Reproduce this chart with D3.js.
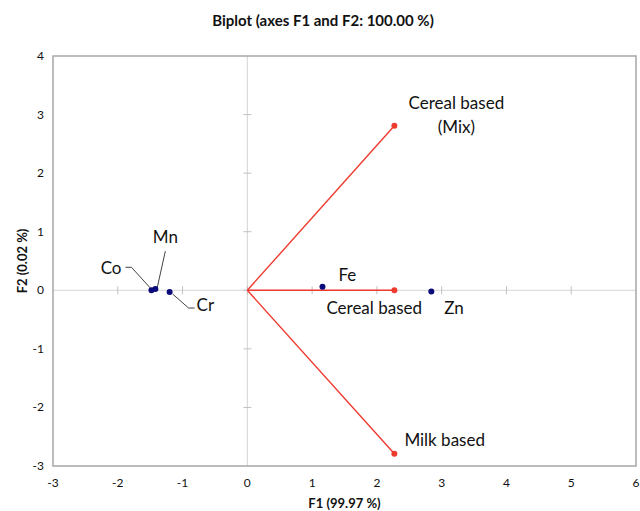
<!DOCTYPE html>
<meta charset="utf-8">
<style>
  body { margin: 0; background: #fff; }
  svg text { font-family: Lato, "Open Sans", sans-serif; fill: #111; }
</style>
<svg width="640" height="511"></svg>
<script src="https://cdn.jsdelivr.net/npm/d3@7"></script>
<script>

// variables (red vectors)
var vecNames = ["Cereal based\n(Mix)", "Cereal based", "Milk based"],
    vecF1 = [2.27, 2.27, 2.27],
    vecF2 = [2.81, 0.00, -2.79];

// observations (blue points)
var obsNames = ["Co", "Mn", "Cr", "Fe", "Zn"],
    obsF1 = [-1.48, -1.42, -1.20, 1.16, 2.84],
    obsF2 = [0.00, 0.02, -0.03, 0.06, -0.02];

var xTicks = [-3, -2, -1, 0, 1, 2, 3, 4, 5, 6],
    yTicks = [-3, -2, -1, 0, 1, 2, 3, 4];

var title = "Biplot (axes F1 and F2: 100.00 %)",
    xTitle = "F1 (99.97 %)",
    yTitle = "F2 (0.02 %)";

// label placement, pixel offsets from the mark
var vecLabelPos = [
  { dx: 62, dy: -17, anchor: "middle" },
  { dx: -68, dy: 24, anchor: "start" },
  { dx: 10, dy: -8, anchor: "start" }
];
var obsLabelPos = [
  { dx: -30, dy: -16, anchor: "end", leader: [[-26, -23], [-20, -23], [0, -1]] },
  { dx: 10, dy: -46, anchor: "middle", leader: [[10, -38], [2, -2]] },
  { dx: 27, dy: 19, anchor: "start", leader: [[3, 2], [19, 16], [25, 16]] },
  { dx: 16, dy: -6, anchor: "start" },
  { dx: 13, dy: 23, anchor: "start" }
];

var svg = d3.select("svg"),
    margin = { top: 56, right: 4, bottom: 45, left: 53 },
    width = 640 - margin.left - margin.right,
    height = 511 - margin.top - margin.bottom;

var x = d3.scaleLinear().domain([-3, 6]).range([0, width]),
    y = d3.scaleLinear().domain([-3, 4]).range([height, 0]);

var g = svg.append("g").attr("transform", "translate(" + margin.left + "," + margin.top + ")");

// zero axes with small ticks
g.append("line").attr("x1", 0).attr("x2", width).attr("y1", y(0)).attr("y2", y(0))
  .attr("stroke", "#d4d4d4");
g.append("line").attr("x1", x(0)).attr("x2", x(0)).attr("y1", 0).attr("y2", height)
  .attr("stroke", "#d4d4d4");
g.selectAll(".xt").data(xTicks.slice(1, -1)).enter().append("line")
  .attr("x1", function(d) { return x(d); }).attr("x2", function(d) { return x(d); })
  .attr("y1", y(0) - 4).attr("y2", y(0) + 4).attr("stroke", "#c0c0c0");
g.selectAll(".yt").data(yTicks.slice(1, -1)).enter().append("line")
  .attr("y1", function(d) { return y(d); }).attr("y2", function(d) { return y(d); })
  .attr("x1", x(0) - 4).attr("x2", x(0) + 4).attr("stroke", "#c0c0c0");

// frame
g.append("rect").attr("width", width).attr("height", height)
  .attr("fill", "none").attr("stroke", "#a6a6a6").attr("stroke-width", 1.5);

// tick labels
g.selectAll(".xl").data(xTicks).enter().append("text")
  .attr("x", function(d) { return x(d); }).attr("y", height + 21)
  .attr("text-anchor", "middle").style("font-size", "12px").text(function(d) { return d; });
g.selectAll(".yl").data(yTicks).enter().append("text")
  .attr("x", -9).attr("y", function(d) { return y(d) + 4; })
  .attr("text-anchor", "end").style("font-size", "12px").text(function(d) { return d; });

// vectors
var red = "#ef3b2f";
vecF1.forEach(function(v, i) {
  g.append("line").attr("x1", x(0)).attr("y1", y(0))
    .attr("x2", x(v)).attr("y2", y(vecF2[i]))
    .attr("stroke", red).attr("stroke-width", 1.4);
  g.append("circle").attr("cx", x(v)).attr("cy", y(vecF2[i])).attr("r", 3).attr("fill", red);
  var p = vecLabelPos[i];
  var lines = vecNames[i].split("\n");
  var t = g.append("text").attr("x", x(v) + p.dx).attr("y", y(vecF2[i]) + p.dy)
    .attr("text-anchor", p.anchor).style("font-size", "17px");
  lines.forEach(function(s, k) {
    t.append("tspan").attr("x", x(v) + p.dx).attr("dy", k ? 24 : 0).text(s);
  });
});

// observations
obsF1.forEach(function(v, i) {
  var px = x(v), py = y(obsF2[i]), p = obsLabelPos[i];
  if (p.leader) {
    g.append("path")
      .attr("d", d3.line()(p.leader.map(function(q) { return [px + q[0], py + q[1]]; })))
      .attr("fill", "none").attr("stroke", "#444").attr("stroke-width", 1);
  }
  g.append("circle").attr("cx", px).attr("cy", py).attr("r", 3).attr("fill", "#0b0b7a");
  g.append("text").attr("x", px + p.dx).attr("y", py + p.dy)
    .attr("text-anchor", p.anchor).style("font-size", "17px").text(obsNames[i]);
});

// titles
svg.append("text").attr("x", 323).attr("y", 26).attr("text-anchor", "middle")
  .style("font-size", "15px").style("font-weight", "bold").text(title);
svg.append("text").attr("x", margin.left + width / 2).attr("y", 508).attr("text-anchor", "middle")
  .style("font-size", "13px").style("font-weight", "bold").text(xTitle);
svg.append("text").attr("transform", "translate(27," + (margin.top + height / 2) + ") rotate(-90)")
  .attr("text-anchor", "middle").style("font-size", "13px").style("font-weight", "bold").text(yTitle);

</script>
